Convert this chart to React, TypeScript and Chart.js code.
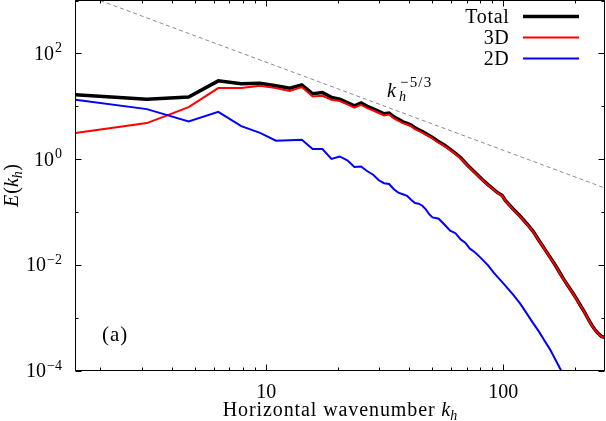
import React, { useEffect, useRef } from 'react';
import { Chart, registerables } from 'chart.js';

Chart.register(...registerables);

// ---- data ----
const kTotal = [
  1.571, 3.142, 4.712, 6.283, 7.854, 9.425, 10.996, 12.566, 14.137, 15.708,
  17.279, 18.850, 20.420, 21.991, 23.562, 25.133, 26.704, 28.274, 29.845, 31.416,
  32.987, 34.558, 36.128, 37.699, 39.270, 40.841, 42.412, 43.982, 45.553, 47.124,
  50.265, 53.407, 56.549, 59.690, 62.832, 65.973, 70.686, 75.398, 81.681, 86.394,
  91.106, 94.248, 98.960, 102.10, 109.96, 117.81, 125.66, 133.52, 141.37, 149.23,
  157.08, 164.93, 172.79, 180.64, 188.50, 196.35, 204.20, 212.06, 219.91, 227.77,
  235.62, 243.47, 251.33, 259.18, 267.04,
];
const eTotal = [
  16.4, 13.6, 14.9, 30.2, 26.5, 27.3, 24.3, 22.0, 25.4, 17.2,
  18.2, 14.7, 13.6, 11.7, 10.2, 11.5, 9.96, 8.93, 8.01, 7.18,
  7.41, 6.3, 5.65, 5.07, 4.75, 4.41, 3.9, 3.58, 3.31, 3.03,
  2.55, 2.12, 1.82, 1.52, 1.28, 1.07, 0.767, 0.575, 0.406, 0.325,
  0.266, 0.234, 0.205, 0.164, 0.1135, 0.0826, 0.0598, 0.0430, 0.0288, 0.0200,
  0.0141, 0.0101, 0.00715, 0.00512, 0.00385, 0.00292, 0.00221, 0.00166, 0.00127, 0.000953,
  0.000728, 0.000590, 0.000498, 0.000441, 0.000424,
];
const e3D = [
  3.10, 4.80, 9.6, 22.0, 22.0, 24.3, 22.0, 19.5, 23.0, 15.3,
  15.7, 13.2, 12.5, 10.8, 9.4, 10.6, 9.2, 8.3, 7.45, 6.7,
  6.95, 5.9, 5.3, 4.78, 4.5, 4.18, 3.7, 3.41, 3.16, 2.9,
  2.45, 2.04, 1.76, 1.48, 1.25, 1.045, 0.75, 0.565, 0.40, 0.32,
  0.262, 0.231, 0.202, 0.162, 0.112, 0.0815, 0.059, 0.0425, 0.0285, 0.0198,
  0.0139, 0.0100, 0.00706, 0.00506, 0.00381, 0.00289, 0.00219, 0.00164, 0.00126, 0.000945,
  0.000722, 0.000585, 0.000494, 0.000438, 0.000421,
];
const k2D = [
  1.571, 3.142, 4.712, 6.283, 7.854, 9.425, 10.996, 12.566, 14.137, 15.708,
  17.279, 18.850, 20.420, 21.991, 23.562, 25.133, 26.704, 28.274, 29.845, 31.416,
  32.987, 34.558, 36.128, 37.699, 39.270, 40.841, 42.412, 43.982, 45.553, 47.124,
  48.695, 50.265, 51.836, 53.407, 56.549, 59.690, 62.832, 65.973, 69.115, 72.257,
  75.398, 78.540, 81.681, 86.394, 91.106, 94.248, 98.960, 103.67, 109.96, 117.81,
  125.66, 133.52, 141.37, 149.23, 157.08, 164.93, 172.79, 180.64, 188.50,
];
const e2D = [
  13.2, 8.81, 5.14, 7.84, 4.21, 3.14, 2.22, 2.26, 2.32, 1.55,
  1.55, 1.01, 1.12, 0.95, 0.706, 0.725, 0.588, 0.505, 0.397, 0.349,
  0.338, 0.269, 0.231, 0.216, 0.202, 0.170, 0.147, 0.143, 0.131, 0.112,
  0.0905, 0.0787, 0.0767, 0.0744, 0.0573, 0.0441, 0.0396, 0.0305, 0.0262, 0.0202,
  0.0177, 0.0149, 0.0125, 0.00962, 0.00709, 0.00596, 0.00469, 0.00369, 0.00272, 0.00184,
  0.00119, 0.000787, 0.000543, 0.000367, 0.000254, 0.000168, 0.000113, 0.0000770, 0.0000520,
];
const kSlope = [2.0, 267.04];
const eSlope = [995, 0.285];

const xMin = 1.5708;
const xMax = 267.04;
const yMin = 1e-4;
const yMax = 1e3;

const xMajorTicks = [10, 100];
const xTickLabels = ['10', '100'];
const xMinorTicks = [2, 3, 4, 5, 6, 7, 8, 9, 20, 30, 40, 50, 60, 70, 80, 90, 200];
const yDecadeTicks = [1e-4, 1e-3, 1e-2, 1e-1, 1, 10, 100, 1000];
const yLabelTicks = [1e-4, 1e-2, 1, 100];
const yLabelExps = ['\u22124', '\u22122', '0', '2'];
const seriesNames = ['Total', '3D', '2D'];
const seriesColors = ['#000000', '#ff0000', '#0000ff'];
const seriesWidths = [3.5, 2, 2];

// ---- drawing helpers ----
const FAM = '"Liberation Serif", "Times New Roman", serif';
const F = (size: number, italic = false) => `${italic ? 'italic ' : ''}${size}px ${FAM}`;

type Run = { t: string; font: string; dy?: number; dx?: number; ls?: number };

function runsWidth(ctx: CanvasRenderingContext2D, runs: Run[]) {
  let w = 0;
  for (const r of runs) {
    ctx.font = r.font;
    (ctx as any).letterSpacing = `${r.ls || 0}px`;
    w += ctx.measureText(r.t).width + (r.dx || 0);
  }
  (ctx as any).letterSpacing = '0px';
  return w;
}

function drawRuns(ctx: CanvasRenderingContext2D, runs: Run[], x: number, y: number) {
  let cx = x;
  for (const r of runs) {
    ctx.font = r.font;
    (ctx as any).letterSpacing = `${r.ls || 0}px`;
    cx += r.dx || 0;
    ctx.fillText(r.t, cx, y + (r.dy || 0));
    cx += ctx.measureText(r.t).width;
  }
  (ctx as any).letterSpacing = '0px';
}

const decorPlugin = {
  id: 'decor',
  afterDraw(chart: any) {
    const { ctx, chartArea: a, scales } = chart;
    const xs = scales.x;
    const ys = scales.y;
    ctx.save();
    ctx.strokeStyle = '#000';
    ctx.fillStyle = '#000';
    ctx.lineWidth = 1;
    ctx.setLineDash([]);
    ctx.strokeRect(a.left, a.top, a.right - a.left, a.bottom - a.top);

    const seg = (x1: number, y1: number, x2: number, y2: number) => {
      ctx.beginPath();
      ctx.moveTo(x1, y1);
      ctx.lineTo(x2, y2);
      ctx.stroke();
    };
    const xp = (v: number) => Math.round(xs.getPixelForValue(v)) + 0.5;
    const yp = (v: number) => Math.round(ys.getPixelForValue(v)) + 0.5;

    xMajorTicks.forEach((v) => {
      const px = xp(v);
      seg(px, a.bottom, px, a.bottom - 6);
      seg(px, a.top, px, a.top + 6);
    });
    xMinorTicks.forEach((v) => {
      const px = xp(v);
      seg(px, a.bottom, px, a.bottom - 3);
      seg(px, a.top, px, a.top + 3);
    });
    yDecadeTicks.forEach((v) => {
      const py = yp(v);
      const len = yLabelTicks.includes(v) ? 6 : 3;
      seg(a.left, py, a.left + len, py);
      seg(a.right, py, a.right - len, py);
    });

    // x tick labels
    ctx.textBaseline = 'alphabetic';
    ctx.textAlign = 'left';
    xMajorTicks.forEach((v, i) => {
      ctx.font = F(20);
      const w = ctx.measureText(xTickLabels[i]).width;
      ctx.fillText(xTickLabels[i], xs.getPixelForValue(v) - w / 2, 398);
    });

    // y tick labels
    yLabelTicks.forEach((v, i) => {
      const py = ys.getPixelForValue(v);
      const runs: Run[] = [
        { t: '10', font: F(20) },
        { t: yLabelExps[i], font: F(14), dy: -7.5, dx: 1 },
      ];
      const w = runsWidth(ctx, runs);
      drawRuns(ctx, runs, 62 - w, py + 6.5);
    });

    // x title
    const xt: Run[] = [
      { t: 'Horizontal wavenumber ', font: F(20), ls: 0.9 },
      { t: 'k', font: F(20, true) },
      { t: 'h', font: F(14, true), dy: 3.5 },
    ];
    const xtw = runsWidth(ctx, xt);
    drawRuns(ctx, xt, (a.left + a.right) / 2 - xtw / 2, 416);

    // y title (rotated)
    ctx.save();
    ctx.translate(11, (a.top + a.bottom) / 2);
    ctx.rotate(-Math.PI / 2);
    const yt: Run[] = [
      { t: 'E', font: F(20, true) },
      { t: '(', font: F(20), dx: 1 },
      { t: 'k', font: F(20, true) },
      { t: 'h', font: F(14, true), dy: 3.5 },
      { t: ')', font: F(20), dx: 0.5 },
    ];
    const ytw = runsWidth(ctx, yt);
    drawRuns(ctx, yt, -ytw / 2, 7);
    ctx.restore();

    // annotation k_h^{-5/3}
    ctx.font = F(20, true);
    ctx.fillText('k', 387, 97);
    drawRuns(ctx, [{ t: '\u22125/3', font: F(15), ls: 1.2 }], 400, 87);
    ctx.font = F(14, true);
    ctx.fillText('h', 399, 101);

    // (a)
    drawRuns(ctx, [{ t: '(a)', font: F(21), ls: 1 }], 102, 341);

    // legend
    const legY = [16.5, 37.5, 58.5];
    seriesNames.forEach((name, i) => {
      ctx.font = F(20);
      (ctx as any).letterSpacing = '0.7px';
      const w = ctx.measureText(name).width;
      ctx.fillText(name, 509.5 - w, legY[i] + 6.8);
      (ctx as any).letterSpacing = '0px';
      ctx.strokeStyle = seriesColors[i];
      ctx.lineWidth = seriesWidths[i];
      seg(523, legY[i], 579, legY[i]);
    });
    ctx.restore();
  },
};

export default function App() {
  const ref = useRef<HTMLCanvasElement>(null);
  useEffect(() => {
    const pts = (ks: number[], es: number[]) => ks.map((k, i) => ({ x: k, y: es[i] }));
    const chart = new Chart(ref.current as HTMLCanvasElement, {
      type: 'line',
      data: {
        datasets: [
          {
            label: 'k^-5/3',
            data: pts(kSlope, eSlope),
            borderColor: '#8a8a8a',
            borderWidth: 1,
            borderDash: [4, 3],
            pointRadius: 0,
            tension: 0,
            clip: 0,
            order: 5,
          },
          {
            label: seriesNames[0],
            data: pts(kTotal, eTotal),
            borderColor: seriesColors[0],
            borderWidth: seriesWidths[0],
            pointRadius: 0,
            tension: 0,
            clip: 0,
            order: 3,
          },
          {
            label: seriesNames[1],
            data: pts(kTotal, e3D),
            borderColor: seriesColors[1],
            borderWidth: seriesWidths[1],
            pointRadius: 0,
            tension: 0,
            clip: 0,
            order: 2,
          },
          {
            label: seriesNames[2],
            data: pts(k2D, e2D),
            borderColor: seriesColors[2],
            borderWidth: seriesWidths[2],
            pointRadius: 0,
            tension: 0,
            clip: 0,
            order: 1,
          },
        ] as any,
      },
      options: {
        responsive: false,
        animation: false,
        devicePixelRatio: 1,
        events: [],
        layout: { padding: { left: 0, top: 0.5, right: 1.5, bottom: 0 } },
        plugins: { legend: { display: false }, tooltip: { enabled: false } },
        scales: {
          x: {
            type: 'logarithmic',
            min: xMin,
            max: xMax,
            ticks: { display: false },
            grid: { display: false, drawTicks: false },
            border: { display: false },
            afterFit: (s: any) => {
              s.height = 50.5;
            },
          },
          y: {
            type: 'logarithmic',
            min: yMin,
            max: yMax,
            ticks: { display: false },
            grid: { display: false, drawTicks: false },
            border: { display: false },
            afterFit: (s: any) => {
              s.width = 75.5;
            },
          },
        },
      } as any,
      plugins: [decorPlugin],
    });
    return () => chart.destroy();
  }, []);
  return (
    <div style={{ position: 'absolute', left: 0, top: 0, width: 606, height: 421, background: '#fff' }}>
      <canvas ref={ref} width={606} height={421} style={{ display: 'block', width: 606, height: 421 }} />
    </div>
  );
}
